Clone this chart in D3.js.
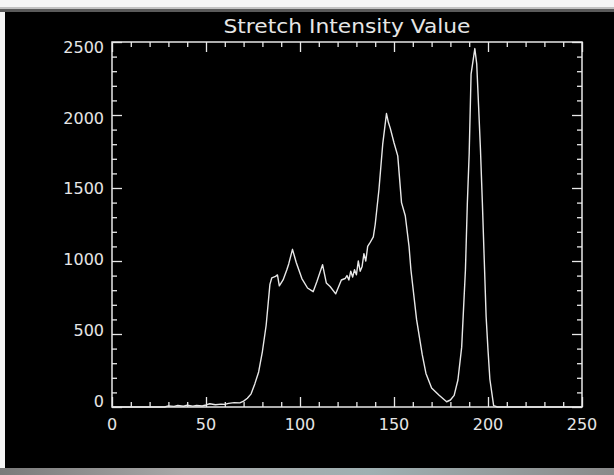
<!DOCTYPE html>
<html>
<head>
<meta charset="utf-8">
<script src="https://cdn.jsdelivr.net/npm/d3@7"></script>
<style>
html,body{margin:0;padding:0;background:#f2f2f2;}
svg{display:block;}
text{font-family:"DejaVu Sans",sans-serif;fill:#e6e6e6;}
</style>
</head>
<body>
<script>
// ---- data ----
const titleText = "Stretch Intensity Value";
const intensity = [0,10,20,28,30,33,35,38,40,43,45,48,50,52,55,58,60,62,65,68,70,72,74,76,78,80,82,84,85,87,88,89,90,91,93,94,96,98,101,104,107,109,112,114,116,119,122,124,125,126,127,128,129,130,131,132,133,134,135,136,137,139,140,142,144,146,147,148,150,152,154,156,158,159,162,165,167,170,174,178,180,182,184,186,188,189,190,191,193,194,195,196,197,198,199,200,201,203,205,210,250];
const counts    = [0,0,0,0,8,4,10,5,12,6,10,7,14,22,15,20,18,25,30,28,40,60,90,160,240,380,560,840,885,895,905,830,850,870,940,980,1080,990,880,815,790,860,975,850,825,775,870,880,900,870,930,890,940,905,1000,930,960,1050,1000,1100,1120,1165,1250,1490,1800,2010,1950,1910,1810,1720,1400,1310,1100,940,600,360,230,130,80,36,48,80,185,410,940,1390,1740,2280,2455,2350,2060,1760,1400,1010,620,390,190,10,0,0,0];
const xMajorTicks = [0,50,100,150,200,250];
const yMajorTicks = [0,500,1000,1500,2000,2500];
const xMinorStep = 10;
const yMinorStep = 100;

const W = 614, H = 475;
const svg = d3.select("body").append("svg").attr("width", W).attr("height", H);

// window frame
const defs = svg.append("defs");
const g1 = defs.append("linearGradient").attr("id","bot").attr("x1","0").attr("x2","1");
[["0%","#7a7a7a"],["30%","#a8a8a8"],["60%","#9fb0b2"],["100%","#8a8a8a"]].forEach(s=>g1.append("stop").attr("offset",s[0]).attr("stop-color",s[1]));
svg.append("rect").attr("x",0).attr("y",0).attr("width",W).attr("height",H).attr("fill","#f4f4f4");
svg.append("rect").attr("x",0).attr("y",7).attr("width",W).attr("height",2).attr("fill","#c0c0c0");
svg.append("rect").attr("x",0).attr("y",9).attr("width",W).attr("height",3).attr("fill","#5a5a5a");
svg.append("rect").attr("x",5).attr("y",12).attr("width",W-5).attr("height",456).attr("fill","#000");
svg.append("rect").attr("x",0).attr("y",468).attr("width",W).attr("height",7).attr("fill","url(#bot)");

const L = 112, R = 582, T = 42, B = 407;
const x = d3.scaleLinear().domain([0,250]).range([L,R]);
const y = d3.scaleLinear().domain([0,2500]).range([B,T]);
const ink = "#e8e8e8";

const xMinor = d3.range(0,250+1e-9,xMinorStep).filter(v=>!xMajorTicks.includes(v));
const yMinor = d3.range(0,2500+1e-9,yMinorStep).filter(v=>!yMajorTicks.includes(v));

function styleAxis(g){ g.select(".domain").remove(); g.selectAll("line").attr("stroke",ink).attr("stroke-width",1.3); g.selectAll("text").remove(); }

svg.append("g").attr("transform",`translate(0,${B})`).call(d3.axisBottom(x).tickValues(xMajorTicks).tickSize(-10)).call(styleAxis);
svg.append("g").attr("transform",`translate(0,${B})`).call(d3.axisBottom(x).tickValues(xMinor).tickSize(-5)).call(styleAxis);
svg.append("g").attr("transform",`translate(0,${T})`).call(d3.axisTop(x).tickValues(xMajorTicks).tickSize(-10)).call(styleAxis);
svg.append("g").attr("transform",`translate(0,${T})`).call(d3.axisTop(x).tickValues(xMinor).tickSize(-5)).call(styleAxis);
svg.append("g").attr("transform",`translate(${L},0)`).call(d3.axisLeft(y).tickValues(yMajorTicks).tickSize(-10)).call(styleAxis);
svg.append("g").attr("transform",`translate(${L},0)`).call(d3.axisLeft(y).tickValues(yMinor).tickSize(-5)).call(styleAxis);
svg.append("g").attr("transform",`translate(${R},0)`).call(d3.axisRight(y).tickValues(yMajorTicks).tickSize(-10)).call(styleAxis);
svg.append("g").attr("transform",`translate(${R},0)`).call(d3.axisRight(y).tickValues(yMinor).tickSize(-5)).call(styleAxis);

// plot box
svg.append("rect").attr("x",L).attr("y",T).attr("width",R-L).attr("height",B-T)
  .attr("fill","none").attr("stroke",ink).attr("stroke-width",1.5);

// labels
const yLab = d3.scaleLinear().domain(y.domain()).range([B-6, T+5]);
svg.append("g").selectAll("text").data(yMajorTicks).join("text")
  .attr("x", L-8).attr("y", d=>yLab(d)).attr("dy","0.36em")
  .attr("text-anchor","end").attr("font-size",16).text(d=>d);
svg.append("g").selectAll("text").data(xMajorTicks).join("text")
  .attr("x", d=>x(d)).attr("y", 424).attr("dy","0.36em")
  .attr("text-anchor","middle").attr("font-size",16).text(d=>d);
svg.append("text").attr("x",(L+R)/2).attr("y",33).attr("text-anchor","middle")
  .attr("font-size",20).attr("textLength",247).attr("lengthAdjust","spacingAndGlyphs").text(titleText);

// histogram line
const pts = intensity.map((v,i)=>[v,counts[i]]);
svg.append("path").datum(pts)
  .attr("fill","none").attr("stroke",ink).attr("stroke-width",1.4).attr("stroke-linejoin","round")
  .attr("d", d3.line().x(d=>x(d[0])).y(d=>y(d[1])));
</script>
</body>
</html>
